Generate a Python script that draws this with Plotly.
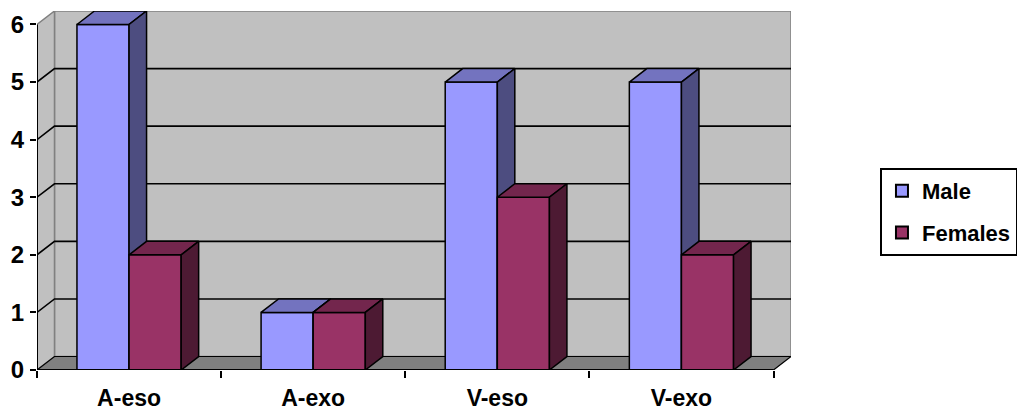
import plotly.graph_objects as go

# Survey counts per category
categories = ["A-eso", "A-exo", "V-eso", "V-exo"]
male = [6, 1, 5, 5]
females = [2, 1, 3, 2]
y_ticks = [0, 1, 2, 3, 4, 5, 6]
series_names = ["Male", "Females"]

# Pseudo-3D geometry in data units
DX = 0.095      # depth shift along x
DY = 0.234      # depth shift along y
BAR_W = 0.283   # column width
Y_MAX = 6

FAMILY = "Liberation Sans, Arial"
XFONT = dict(family=FAMILY, size=23, color="black", weight="bold")
YFONT = dict(family=FAMILY, size=24, color="black", weight="bold")
LFONT = dict(family=FAMILY, size=22, color="black", weight="bold")

colors = {
    "Male": dict(front="#9999FF", top="#7373BF", side="#4D4D80"),
    "Females": dict(front="#993366", top="#73264D", side="#4D1A33"),
}

n = len(categories)
x_left = -0.5
x_right = n - 0.5

fig = go.Figure()


def poly(xs, ys, fill, line="black", width=1.5):
    fig.add_trace(go.Scatter(
        x=list(xs) + [xs[0]], y=list(ys) + [ys[0]], mode="lines", fill="toself",
        fillcolor=fill, line=dict(color=line, width=width),
        hoverinfo="skip", showlegend=False))


def seg(xs, ys, color="black", width=1.5):
    fig.add_trace(go.Scatter(
        x=xs, y=ys, mode="lines", line=dict(color=color, width=width),
        hoverinfo="skip", showlegend=False, cliponaxis=False))


# Back wall
poly([x_left + DX, x_right + DX, x_right + DX, x_left + DX],
     [DY, DY, Y_MAX + DY, Y_MAX + DY], "#C0C0C0", line="#808080", width=1.5)
# Side wall
poly([x_left, x_left + DX, x_left + DX, x_left],
     [0, DY, Y_MAX + DY, Y_MAX], "#C0C0C0", line="#808080", width=1.5)

# Gridlines on side and back walls
for k in y_ticks[1:-1]:
    seg([x_left, x_left + DX, x_right + DX], [k, k + DY, k + DY], width=1.6)

# Floor
poly([x_left, x_right, x_right + DX, x_left + DX], [0, 0, DY, DY], "#808080", width=1.2)

# Columns, drawn left to right so that each front face hides the previous side face
for i in range(n):
    for j, (name, vals) in enumerate(zip(series_names, [male, females])):
        v = vals[i]
        x0 = i - BAR_W + j * BAR_W
        x1 = x0 + BAR_W
        c = colors[name]
        poly([x0, x1, x1, x0], [0, 0, v, v], c["front"])
        poly([x0, x1, x1 + DX, x0 + DX], [v, v, v + DY, v + DY], c["top"])
        poly([x1, x1 + DX, x1 + DX, x1], [0, DY, v + DY, v], c["side"])

# Front axis lines
seg([x_left, x_left], [0, Y_MAX], width=2)
seg([x_left, x_right], [0, 0], width=2)

# Legend entries
for name in series_names:
    fig.add_trace(go.Scatter(
        x=[None], y=[None], mode="markers", name=name, legendgroup=name,
        marker=dict(symbol="square", size=12, color=colors[name]["front"],
                    line=dict(color="black", width=1.5))))

fig.update_layout(
    width=1017, height=412,
    margin=dict(l=37, r=226, t=11, b=42, autoexpand=False),
    paper_bgcolor="white", plot_bgcolor="white",
    font=LFONT,
    xaxis=dict(range=[x_left, x_right + DX], tickmode="array",
               tickvals=list(range(n)), ticktext=categories, ticks="",
               ticklabelstandoff=12, automargin=False,
               showgrid=False, zeroline=False, showline=False,
               tickfont=XFONT, fixedrange=True),
    xaxis2=dict(range=[x_left, x_right + DX], overlaying="x", side="bottom",
                tickmode="array", tickvals=[x_left + k for k in range(n + 1)],
                ticks="outside", ticklen=7, tickwidth=2, tickcolor="black",
                automargin=False,
                showticklabels=False, showgrid=False, zeroline=False, showline=False),
    yaxis=dict(range=[0, Y_MAX + DY], tickmode="array", tickvals=y_ticks,
               ticks="outside", ticklen=6, tickwidth=2, tickcolor="black",
               ticklabelstandoff=1, automargin=False,
               showgrid=False, zeroline=False, showline=False,
               tickfont=YFONT, fixedrange=True),
    legend=dict(x=1.118, y=0.44, xanchor="left", yanchor="middle",
                bordercolor="black", borderwidth=2, bgcolor="white",
                font=LFONT, itemsizing="constant",
                traceorder="grouped", tracegroupgap=10),
    showlegend=True,
)

# Invisible trace to attach the boundary tick axis
fig.add_trace(go.Scatter(x=[None], y=[None], xaxis="x2", showlegend=False, hoverinfo="skip"))

fig.write_html("out.html")
